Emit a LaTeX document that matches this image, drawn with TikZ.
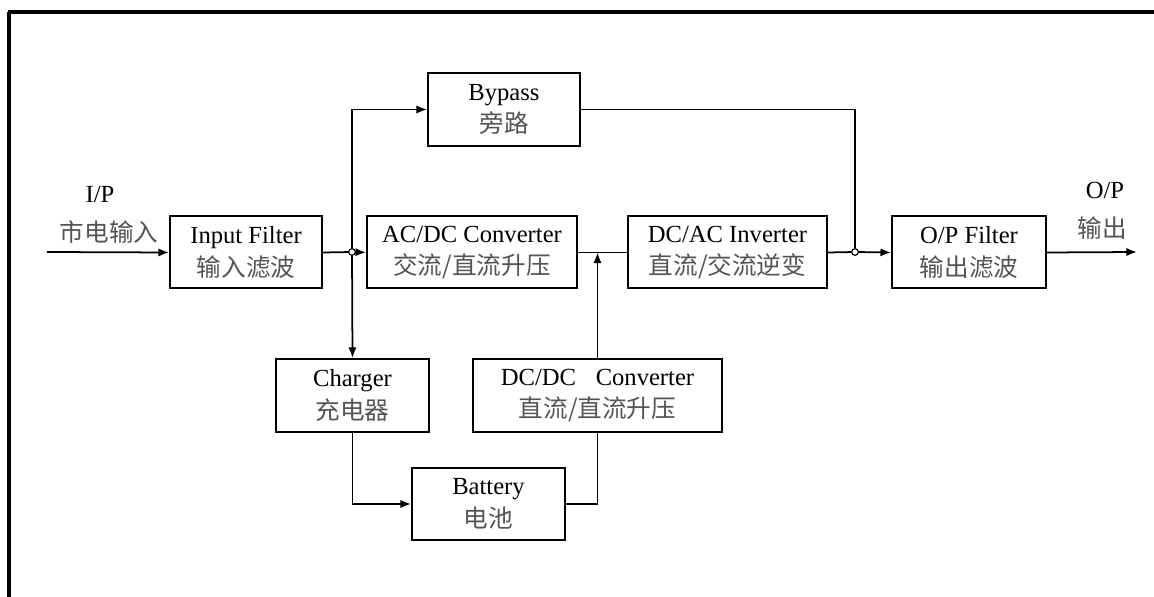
\documentclass[tikz,border=0pt]{standalone}
\usepackage{fontspec}
\setmainfont{Liberation Serif}
\newfontfamily\cjk{Noto Sans CJK SC}
\usetikzlibrary{arrows.meta,positioning,calc}
\definecolor{zhgray}{gray}{0.33}
\newcommand{\zh}[1]{{\cjk\color{zhgray}#1}}

\begin{document}
\begin{tikzpicture}[x=0.03cm, y=0.03cm,
    every node/.style={font=\fontsize{21}{28}\selectfont},
    blk/.style={draw, line width=1.7pt, fill=white, align=center, inner sep=0pt, minimum height=2.16cm},
    jn/.style={circle, draw, line width=1pt, fill=white, inner sep=0pt, minimum size=0.2cm},
    wire/.style={line width=1.5pt},
    flow/.style={wire, -{Latex[length=9pt,width=7pt]}}]
  \useasboundingbox (0,0) rectangle (1154,597);
  % frame
  \draw[line width=2.6pt] (8,585) -- (1154,585);
  \draw[line width=2.6pt] (9,585) -- (9,0);
  % main path
  \node[blk, minimum width=4.56cm] (inflt) at (246,344.5) {Input Filter\\\zh{输入滤波}};
  \node[blk, minimum width=6.3cm] (acdc) at (472,344.5) {AC/DC Converter\\\zh{交流/直流升压}};
  \node[blk, minimum width=5.97cm] (dcac) at (727.5,344.5) {DC/AC Inverter\\\zh{直流/交流逆变}};
  \node[blk, minimum width=4.62cm] (opflt) at (969,344.5) {O/P Filter\\\zh{输出滤波}};
  \node[blk, minimum width=4.56cm, minimum height=2.19cm] (bypass) at (504,487.5) {Bypass\\\zh{旁路}};
  \node[blk, minimum width=4.59cm, minimum height=2.19cm] (charger) at (352.5,201.5) {Charger\\\zh{充电器}};
  \node[blk, minimum width=7.47cm, minimum height=2.19cm] (dcdc) at (597.5,201.5) {DC/DC\hspace{0.8em}Converter\\\zh{直流/直流升压}};
  \node[blk, minimum width=4.59cm] (bat) at (488.5,93) {Battery\\\zh{电池}};
  % labels
  \node (ip) at (100,402) {I/P};
  \node (ipzh) at (109,365) {\zh{市电输入}};
  \node (op) at (1105,407) {O/P};
  \node (opzh) at (1102,369) {\zh{输出}};
  % junctions
  \node[jn] (j1) at (352,345) {};
  \node[jn] (j2) at (855,345) {};
  \coordinate (in) at (47,345);
  \coordinate (out) at (1137,345);
  % connectors
  \draw[flow] (in) -- (inflt.west);
  \draw[wire] (inflt.east) -- (j1);
  \draw[flow] (j1) -- (acdc.west);
  \draw[flow] (j1) |- (bypass.west);
  \draw[flow] (j1) -- (charger.north);
  \draw[wire] (acdc.east) -- (dcac.west);
  \draw[wire] (bypass.east) -| (j2);
  \draw[wire] (dcac.east) -- (j2);
  \draw[flow] (j2) -- (opflt.west);
  \draw[flow] (opflt.east) -- (out);
  \draw[flow] (charger.south) |- (bat.west);
  \draw[wire] (bat.east) -| (dcdc.south);
  \draw[flow] (dcdc.north) -- (dcdc.north |- acdc.east);
\end{tikzpicture}
\end{document}
